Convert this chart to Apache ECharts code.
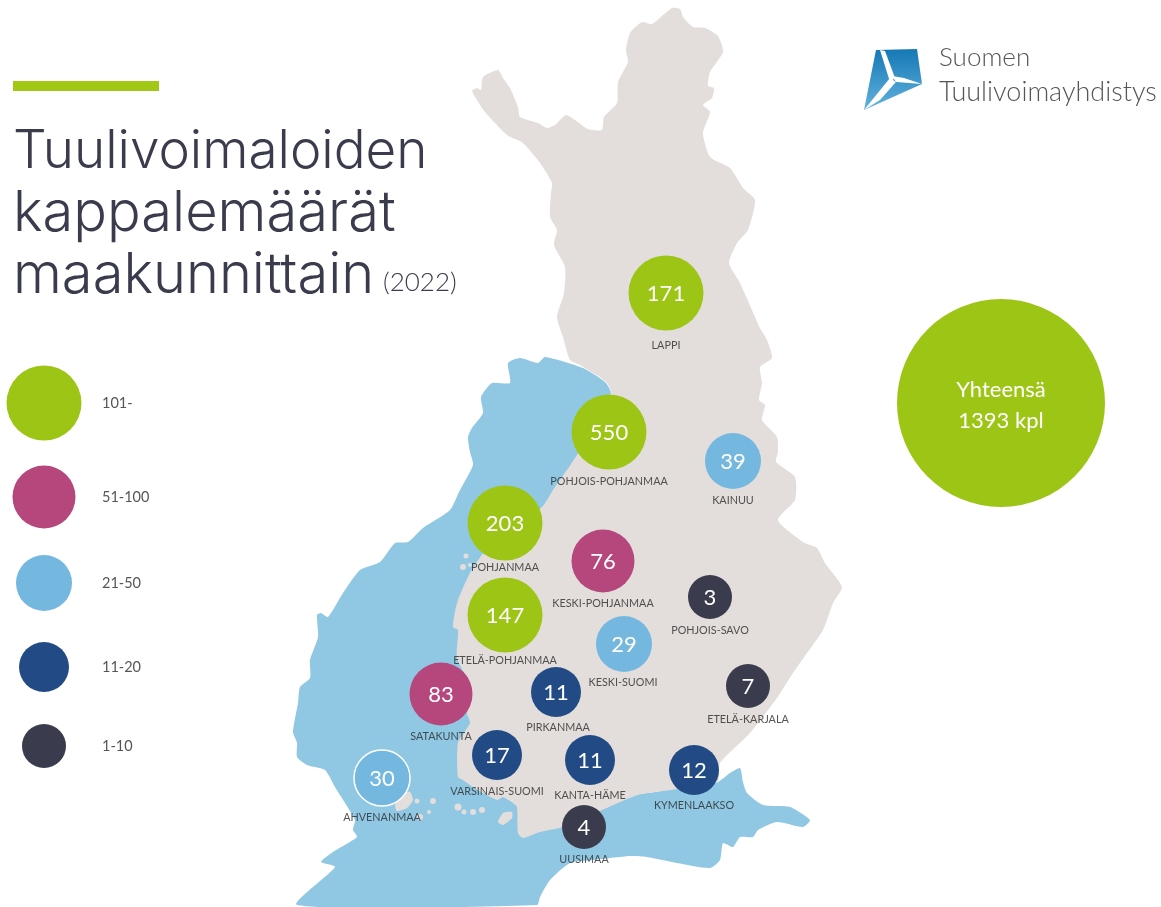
<!DOCTYPE html>
<html>
<head>
<meta charset="utf-8">
<title>Tuulivoimaloiden kappalemäärät maakunnittain</title>
<script src="https://cdn.jsdelivr.net/npm/echarts@6/dist/echarts.min.js"></script>
<style>
  html, body { margin: 0; padding: 0; background: #fff; }
  #chart { width: 1161px; height: 907px; }
</style>
</head>
<body>
<div id="chart"></div>
<script>
// regions
const regionNames = ["LAPPI", "POHJOIS-POHJANMAA", "KAINUU", "POHJANMAA", "KESKI-POHJANMAA", "ETELÄ-POHJANMAA", "POHJOIS-SAVO", "KESKI-SUOMI", "SATAKUNTA", "PIRKANMAA", "ETELÄ-KARJALA", "VARSINAIS-SUOMI", "KANTA-HÄME", "KYMENLAAKSO", "AHVENANMAA", "UUSIMAA"];
const regionCounts = [171, 550, 39, 203, 76, 147, 3, 29, 83, 11, 7, 17, 11, 12, 30, 4];
const regionX = [666, 609, 733, 505, 603, 505, 710, 624, 441, 556, 748, 497, 590, 694, 382, 584];
const regionY = [293, 432, 461, 523, 561, 615, 597, 644, 694, 692, 686, 755, 760, 770, 778, 827];
const nameX = [666, 609, 733, 505, 603, 505, 710, 623, 441, 558, 748, 497, 590, 694, 382, 584];
const nameY = [346, 482, 501, 568, 604, 661, 631, 683, 737, 728, 720, 792, 796, 806, 818, 860];

// size classes, biggest first
const classLabels = ["101-", "51-100", "21-50", "11-20", "1-10"];
const classMins = [101, 51, 21, 11, 1];
const classColors = ["#9dc516", "#b5477c", "#74b8e0", "#224a85", "#3a3b4c"];
const classSizes = [75, 63, 56, 50, 44];
const legendY = [403, 497, 583, 667, 746];

const totalLines = ["Yhteensä", "1393 kpl"];

// outlines in map units
const land = [[472,91],[477,88],[481,90],[483,77],[498,70],[503,78],[510,88],[518,107],[520,117],[538,123],[547,128],[555,125],[566,115],[575,120],[588,129],[602,130],[604,117],[617,103],[618,82],[628,62],[626,50],[630,33],[642,22],[652,24],[672,8],[680,9],[683,17],[693,27],[705,28],[718,36],[723,52],[710,72],[708,86],[714,88],[712,98],[703,105],[710,112],[703,133],[710,157],[730,168],[743,188],[755,200],[748,230],[737,243],[729,263],[740,283],[760,328],[767,340],[772,358],[760,367],[762,383],[759,400],[765,405],[762,420],[777,437],[778,452],[776,462],[795,477],[795,500],[778,520],[803,542],[817,548],[825,563],[842,587],[833,603],[823,630],[807,653],[793,673],[777,698],[750,733],[720,763],[718,781],[677,789],[638,795],[602,810],[563,827],[540,832],[523,838],[518,833],[517,807],[513,803],[503,797],[497,800],[473,787],[463,780],[458,777],[458,743],[470,723],[467,713],[472,690],[457,658],[458,630],[453,627],[457,603],[470,573],[490,545],[542,507],[553,490],[577,455],[590,430],[611,392],[605,381],[580,365],[570,360],[563,337],[557,317],[564,293],[565,267],[554,245],[557,230],[550,217],[551,193],[552,183],[540,163],[523,143],[507,135],[485,112]];
const sea = [[508,363],[520,358],[538,363],[545,357],[583,368],[605,382],[611,393],[600,500],[600,790],[700,785],[718,782],[730,773],[740,768],[743,782],[747,793],[763,805],[790,807],[810,820],[803,827],[777,822],[758,830],[753,837],[740,837],[733,847],[723,843],[720,860],[710,868],[677,863],[647,857],[630,856],[593,860],[570,863],[550,880],[540,897],[537,905],[297,905],[335,867],[321,862],[333,852],[357,837],[353,830],[355,820],[345,803],[335,787],[325,770],[307,765],[297,757],[297,743],[293,732],[298,703],[300,687],[310,678],[310,660],[318,637],[317,615],[321,613],[328,617],[343,593],[360,570],[380,562],[395,543],[408,542],[423,528],[450,510],[460,490],[473,465],[470,452],[468,437],[472,428],[483,413],[481,397],[492,383],[510,383]];
const alandMain = [[395,805],[403,793],[410,792],[413,800],[407,808],[397,811]];
const turkuIsland = [[498,822],[503,813],[512,812],[512,818],[503,825]];
const islandPoints = [[417,801,5],[433,801,6],[429,812,4],[420,817,6],[458,807,7],[464,812,5],[473,812,6],[482,810,6],[463,567,6],[466,556,5],[470,565,4]];

const fontName = "Lato, 'Noto Sans', sans-serif";
const titleFont = "Inter, Lato, sans-serif";

function classIndex(v) {
  return classMins.findIndex(m => v >= m);
}

function polygonSeries(points, color, z) {
  return {
    type: "custom",
    coordinateSystem: "cartesian2d",
    silent: true,
    z: z,
    data: [0],
    renderItem: (params, api) => ({
      type: "polygon",
      shape: { points: points.map(p => api.coord(p)), smooth: 0.2 },
      style: { fill: color }
    })
  };
}

const regionData = regionNames.map((name, i) => {
  const k = classIndex(regionCounts[i]);
  const item = {
    name: name,
    value: [regionX[i], regionY[i], regionCounts[i]],
    symbolSize: classSizes[k],
    itemStyle: { color: classColors[k], opacity: 1 }
  };
  if (name === "AHVENANMAA") {
    item.itemStyle.borderColor = "#fff";
    item.itemStyle.borderWidth = 1.5;
  }
  return item;
});

const chart = echarts.init(document.getElementById("chart"), null, { renderer: "canvas" });

chart.setOption({
  animation: false,
  backgroundColor: "#fff",
  textStyle: { fontFamily: fontName },
  grid: { left: 0, right: 0, top: 0, bottom: 0 },
  xAxis: { type: "value", min: 0, max: 1161, show: false },
  yAxis: { type: "value", min: 0, max: 907, inverse: true, show: false },
  series: [
    polygonSeries(sea, "#90c8e4", 1),
    polygonSeries(land, "#e3dedb", 2),
    polygonSeries(alandMain, "#e3dedb", 2),
    polygonSeries(turkuIsland, "#e3dedb", 2),
    {
      type: "scatter",
      silent: true,
      z: 3,
      data: islandPoints,
      symbolSize: v => v[2],
      itemStyle: { color: "#e3dedb", opacity: 1 }
    },
    {
      // counts inside the bubbles
      type: "scatter",
      silent: true,
      z: 4,
      data: regionData,
      label: {
        show: true,
        position: "inside",
        offset: [0, 1],
        color: "#fff",
        fontSize: 22,
        fontFamily: fontName,
        formatter: p => p.value[2]
      }
    },
    {
      // region names
      type: "scatter",
      silent: true,
      z: 5,
      symbolSize: 0,
      data: regionNames.map((name, i) => ({ name: name, value: [nameX[i], nameY[i]] })),
      label: {
        show: true,
        position: "inside",
        color: "#2b2b2b",
        fontSize: 10.8,
        fontFamily: fontName,
        formatter: p => p.name
      }
    },
    {
      // size legend
      type: "scatter",
      silent: true,
      z: 4,
      data: classLabels.map((t, i) => ({
        name: t,
        value: [44, legendY[i]],
        symbolSize: classSizes[i],
        itemStyle: { color: classColors[i], opacity: 1 }
      }))
    },
    {
      type: "scatter",
      silent: true,
      z: 4,
      symbolSize: 0,
      data: classLabels.map((t, i) => ({ name: t, value: [102, legendY[i]] })),
      label: {
        show: true,
        position: "right",
        distance: 0,
        color: "#2b2b2b",
        fontSize: 14.5,
        fontFamily: fontName,
        formatter: p => p.name
      }
    },
    {
      // national total
      type: "scatter",
      silent: true,
      z: 4,
      data: [{ name: totalLines.join("\n"), value: [1001, 403] }],
      symbolSize: 208,
      itemStyle: { color: classColors[0], opacity: 1 },
      label: {
        show: true,
        position: "inside",
        offset: [0, 2],
        color: "#fff",
        fontSize: 22,
        lineHeight: 31,
        fontFamily: fontName,
        formatter: p => p.name
      }
    }
  ],
  graphic: [
    { type: "rect", shape: { x: 13, y: 81, width: 146, height: 10 }, style: { fill: "#a0c814" } },
    { type: "text", x: 13, y: 152, style: { text: "Tuulivoimaloiden", fill: "#3a3b4c", fontSize: 53, fontFamily: titleFont, fontWeight: 300, textVerticalAlign: "middle" } },
    { type: "text", x: 13, y: 214, style: { text: "kappalemäärät", fill: "#3a3b4c", fontSize: 56, fontFamily: titleFont, fontWeight: 300, textVerticalAlign: "middle" } },
    { type: "text", x: 13, y: 276, style: { text: "maakunnittain", fill: "#3a3b4c", fontSize: 56, fontFamily: titleFont, fontWeight: 300, textVerticalAlign: "middle" } },
    { type: "text", x: 383, y: 283, style: { text: "(2022)", fill: "#3a3b4c", fontSize: 26, fontFamily: fontName, fontWeight: 300, textVerticalAlign: "middle" } },
    // logo
    {
      type: "polygon",
      shape: { points: [[876, 50], [917, 49], [922, 84], [864, 110]] },
      style: {
        fill: new echarts.graphic.LinearGradient(0, 0, 0, 1, [
          { offset: 0, color: "#1678b4" },
          { offset: 1, color: "#62b2de" }
        ])
      }
    },
    { type: "polygon", shape: { points: [[880, 50], [885, 51], [895, 78], [890, 82]] }, style: { fill: "#fff" } },
    { type: "polygon", shape: { points: [[892, 76], [904, 78], [922, 84], [896, 82]] }, style: { fill: "#fff" } },
    { type: "polygon", shape: { points: [[890, 78], [896, 82], [880, 100], [864, 110]] }, style: { fill: "#fff" } },
    { type: "text", x: 939, y: 58, style: { text: "Suomen", fill: "#55565a", fontSize: 26, fontFamily: fontName, fontWeight: 300, textVerticalAlign: "middle" } },
    { type: "text", x: 939, y: 92, style: { text: "Tuulivoimayhdistys", fill: "#55565a", fontSize: 27, fontFamily: fontName, fontWeight: 300, textVerticalAlign: "middle" } }
  ]
});

window.addEventListener("resize", () => chart.resize());
</script>
</body>
</html>
